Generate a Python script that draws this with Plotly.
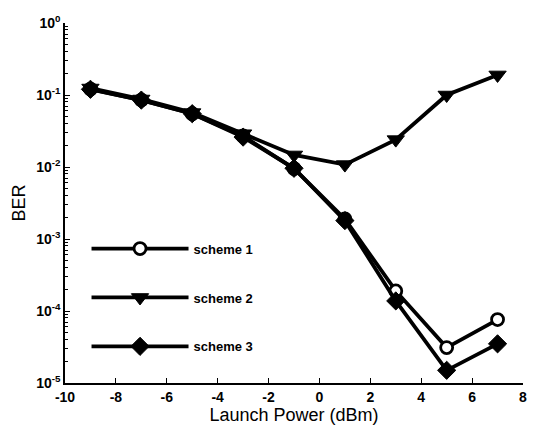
import plotly.graph_objects as go

launch_power = [-9, -7, -5, -3, -1, 1, 3, 5, 7]
scheme1 = [0.121, 0.085, 0.055, 0.027, 0.0095, 0.0019, 1.9e-4, 3.1e-5, 7.6e-5]
scheme2 = [0.125, 0.088, 0.057, 0.029, 0.0147, 0.0108, 0.024, 0.10, 0.19]
scheme3 = [0.120, 0.085, 0.055, 0.026, 0.0096, 0.0018, 1.38e-4, 1.5e-5, 3.5e-5]
names = ["scheme 1", "scheme 2", "scheme 3"]

y_tickvals = [1, 0.1, 0.01, 1e-3, 1e-4, 1e-5]
y_ticktext = ["10<sup>0</sup>", "10<sup>-1</sup>", "10<sup>-2</sup>",
              "10<sup>-3</sup>", "10<sup>-4</sup>", "10<sup>-5</sup>"]
x_tickvals = [-10, -8, -6, -4, -2, 0, 2, 4, 6, 8]
x_ticktext = ["-10", "-8", "-6", "-4", "-2", "0", "2", "4", "6", "8"]

FONT = "Liberation Sans, Arial, sans-serif"

fig = go.Figure()
styles = [
    dict(symbol="circle", color="white", size=12, line=dict(color="black", width=2.8)),
    dict(symbol="triangle-down", color="black", size=15, line=dict(color="black", width=1)),
    dict(symbol="diamond", color="black", size=14, line=dict(color="black", width=1)),
]
for i, (nm, ys) in enumerate(zip(names, [scheme1, scheme2, scheme3])):
    fig.add_trace(go.Scatter(
        x=launch_power, y=ys, name=nm, mode="lines+markers",
        line=dict(color="black", width=3.8),
        marker=styles[i], legendgroup=nm,
    ))

fig.update_layout(
    width=533, height=429,
    margin=dict(l=65, r=6, t=23, b=46),
    paper_bgcolor="white", plot_bgcolor="white",
    font=dict(family=FONT, color="black"),
    showlegend=True,
    legend=dict(x=0.047, y=0.415, xanchor="left", yanchor="top",
                bgcolor="rgba(0,0,0,0)", itemwidth=97, tracegroupgap=29,
                font=dict(size=13, family=FONT, weight="bold")),
    xaxis=dict(range=[-10, 8], tickmode="array", tickvals=x_tickvals, ticktext=x_ticktext,
               ticks="inside", ticklen=5, tickcolor="black",
               showline=True, linecolor="black", linewidth=1.5, showgrid=False,
               zeroline=False, tickfont=dict(size=14, family=FONT, weight="bold"),
               title=dict(text="Launch Power (dBm)", font=dict(size=18), standoff=4)),
    yaxis=dict(type="log", range=[-5, 0], tickmode="array", tickvals=y_tickvals,
               ticktext=y_ticktext, ticks="inside", ticklen=5, tickcolor="black",
               minor=dict(dtick="D1", ticks="inside", ticklen=3,
                          tickcolor="black", showgrid=False),
               showline=True, linecolor="black", linewidth=1.5, showgrid=False,
               zeroline=False, tickfont=dict(size=14, family=FONT, weight="bold"),
               title=dict(text="BER", font=dict(size=18), standoff=6)),
)

fig.write_html("out.html")
